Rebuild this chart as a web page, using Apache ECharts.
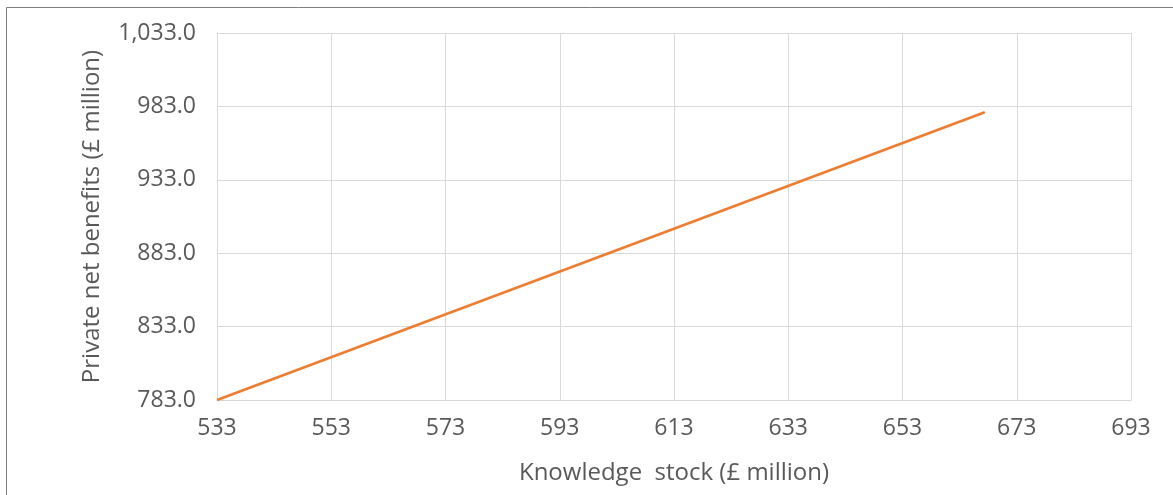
<!DOCTYPE html>
<html>
<head>
<meta charset="utf-8">
<script src="https://cdn.jsdelivr.net/npm/echarts@6/dist/echarts.min.js"></script>
<style>
html,body{margin:0;padding:0;background:#fff;}
#chart{width:1173px;height:495px;}
</style>
</head>
<body>
<div id="chart"></div>
<script>
// Data
const knowledgeStock = [533, 667.4];          // £ million (x)
const privateNetBenefits = [783, 979];        // £ million (y)
const xAxisTitle = 'Knowledge  stock (£ million)';
const yAxisTitle = 'Private net benefits (£ million)';
const xMin = 533, xMax = 693, xStep = 20;
const yMin = 783, yMax = 1033, yStep = 50;

const points = knowledgeStock.map((x, i) => [x, privateNetBenefits[i]]);

const chart = echarts.init(document.getElementById('chart'), null, {renderer: 'canvas'});
const fontFamily = '"Open Sans", "Noto Sans", sans-serif';
const textColor = '#595959';
const gridColor = '#d9d9d9';

chart.setOption({
  animation: false,
  backgroundColor: '#ffffff',
  graphic: [{
    type: 'rect',
    left: 4, top: 5,
    shape: {x: 0, y: 0, width: 1300, height: 700},
    style: {fill: 'none', stroke: '#7f7f7f', lineWidth: 1},
    silent: true
  }],
  grid: {left: 217, right: 42, top: 33, bottom: 95, containLabel: false},
  xAxis: {
    type: 'value',
    min: xMin, max: xMax, interval: xStep,
    name: xAxisTitle,
    nameLocation: 'middle',
    nameGap: 61,
    nameTextStyle: {color: textColor, fontSize: 24, fontFamily: fontFamily},
    axisLine: {show: true, lineStyle: {color: gridColor, width: 1}},
    axisTick: {show: false},
    axisLabel: {color: textColor, fontSize: 23, fontFamily: fontFamily, margin: 17},
    splitLine: {show: true, lineStyle: {color: gridColor, width: 1}}
  },
  yAxis: {
    type: 'value',
    min: yMin, max: yMax, interval: yStep,
    name: yAxisTitle,
    nameLocation: 'middle',
    nameGap: 113,
    nameRotate: 90,
    nameTextStyle: {color: textColor, fontSize: 24, fontFamily: fontFamily},
    axisLine: {show: true, lineStyle: {color: gridColor, width: 1}},
    axisTick: {show: false},
    axisLabel: {
      color: textColor, fontSize: 23, fontFamily: fontFamily, margin: 21,
      formatter: v => v.toLocaleString('en-US', {minimumFractionDigits: 1, maximumFractionDigits: 1})
    },
    splitLine: {show: true, lineStyle: {color: gridColor, width: 1}}
  },
  series: [{
    type: 'line',
    data: points,
    showSymbol: false,
    lineStyle: {color: '#ED7D31', width: 2.8},
    itemStyle: {color: '#ED7D31'}
  }]
});
</script>
</body>
</html>
